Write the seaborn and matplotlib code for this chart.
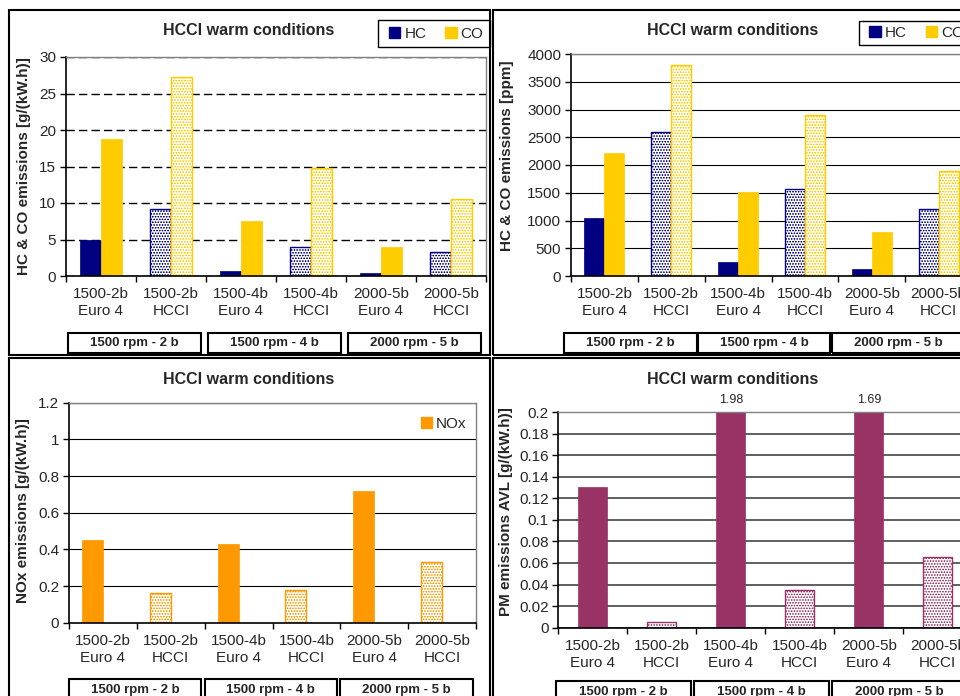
import numpy as np
import pandas as pd
import matplotlib
matplotlib.use("Agg")
import matplotlib.pyplot as plt
import seaborn as sns
from matplotlib.patches import Rectangle, Patch
from matplotlib.transforms import blended_transform_factory
from matplotlib.ticker import FuncFormatter

# Test points: engine speed / load and combustion mode
categories = ["1500-2b\nEuro 4", "1500-2b\nHCCI", "1500-4b\nEuro 4",
              "1500-4b\nHCCI", "2000-5b\nEuro 4", "2000-5b\nHCCI"]
combustion_mode = ["Euro 4", "HCCI", "Euro 4", "HCCI", "Euro 4", "HCCI"]
operating_points = ["1500 rpm - 2 b", "1500 rpm - 4 b", "2000 rpm - 5 b"]

# Specific emissions [g/(kW.h)]
hc_specific = [4.9, 9.2, 0.7, 4.0, 0.35, 3.3]
co_specific = [18.8, 27.2, 7.6, 14.8, 4.0, 10.5]
nox_specific = [0.45, 0.16, 0.43, 0.18, 0.72, 0.33]
pm_specific = [0.130, 0.0055, 1.98, 0.035, 1.69, 0.066]

# Raw concentrations [ppm]
hc_ppm = [1040, 2600, 250, 1570, 130, 1200]
co_ppm = [2210, 3800, 1505, 2900, 800, 1900]

NAVY = "#000080"
GOLD = "#FFCC00"
ORANGE = "#FF9900"
PLUM = "#993366"

sns.set_style("white")
plt.rcParams["font.family"] = ["Liberation Sans", "DejaVu Sans"]
plt.rcParams["hatch.linewidth"] = 0.25

W, H = 960, 696
fig = plt.figure(figsize=(W / 100, H / 100), dpi=100)


def fx(px):
    return px / W


def fy(py):
    return 1 - py / H


def axes_rect(left, top, right, bottom):
    return [fx(left), fy(bottom), (right - left) / W, (bottom - top) / H]


def frame(l, t, r, b, lw=1.5):
    fig.add_artist(Rectangle((fx(l), fy(b)), (r - l) / W, (b - t) / H,
                             transform=fig.transFigure, fill=False,
                             ec="black", lw=lw, zorder=0))


# One bordered frame per chart
for box in [(8.5, 10, 489.5, 355), (492.5, 10, 1010, 355),
            (8.5, 358, 489.5, 720), (492.5, 358, 1010, 720)]:
    frame(*box)


def style_bar(bar, mode, color):
    if mode == "HCCI":
        bar.set_facecolor("white")
        bar.set_edgecolor(color)
        bar.set_hatch("oooooo")
        bar.set_linewidth(1.0)
    else:
        bar.set_facecolor(color)
        bar.set_edgecolor(color)
        bar.set_linewidth(0.5)


def paired_bars(ax, first, second, names, colors):
    df = pd.DataFrame({
        "point": categories * 2,
        "value": list(first) + list(second),
        "species": [names[0]] * 6 + [names[1]] * 6,
    })
    sns.barplot(data=df, x="point", y="value", hue="species", order=categories,
                hue_order=names, palette=dict(zip(names, colors)), width=0.6,
                saturation=1, errorbar=None, legend=False, ax=ax)
    for container, color in zip(ax.containers, colors):
        for mode, bar in zip(combustion_mode, container):
            style_bar(bar, mode, color)


def single_bars(ax, values, color, width, shift=0.0):
    df = pd.DataFrame({"point": categories, "value": values})
    sns.barplot(data=df, x="point", y="value", order=categories, color=color,
                width=width, saturation=1, errorbar=None, ax=ax)
    for mode, bar in zip(combustion_mode, ax.containers[0]):
        bar.set_x(bar.get_x() + shift)
        style_bar(bar, mode, color)


def style_axes(ax, ymax, ystep, grid_kw):
    ax.set_xlabel("")
    ax.set_ylabel("")
    ax.set_xlim(-0.5, 5.5)
    ax.set_ylim(0, ymax)
    ax.set_yticks(np.round(np.arange(0, ymax + ystep / 2, ystep), 6))
    ax.yaxis.set_major_formatter(FuncFormatter(lambda v, _: f"{v:g}"))
    ax.set_xticks(np.arange(-0.5, 6, 1))
    ax.set_xticklabels([])
    ax.set_xticks(range(6), minor=True)
    ax.set_xticklabels(categories, minor=True)
    for t in ax.get_xticklabels(minor=True):
        t.set_linespacing(1.3)
    ax.tick_params(axis="x", which="major", direction="out", length=4,
                   width=1, color="black", bottom=True)
    ax.tick_params(axis="x", which="minor", length=0, pad=8, labelsize=11,
                   bottom=True)
    ax.tick_params(axis="y", direction="out", length=4, width=1, pad=3,
                   labelsize=11, left=True, color="black")
    ax.grid(False)
    ax.yaxis.grid(True, **grid_kw)
    ax.set_axisbelow(True)
    for s in ["left", "bottom"]:
        ax.spines[s].set_color("black")
        ax.spines[s].set_linewidth(1.2)
    for s in ["top", "right"]:
        ax.spines[s].set_color("#808080")
        ax.spines[s].set_linewidth(1.0)


def group_boxes(ax, axis_px, offset_px, a, w):
    tr = blended_transform_factory(ax.transData, fig.transFigure)
    top = axis_px + offset_px
    for k, name in enumerate(operating_points):
        x0 = 2 * k - 0.5 + a
        ax.add_patch(Rectangle((x0, fy(top + 20.5)), w, 20.5 / H, transform=tr,
                               fill=False, ec="black", lw=1.5, clip_on=False))
        ax.text(x0 + w / 2, fy(top + 10.5), name, transform=tr, ha="center",
                va="center", fontsize=9.5, fontweight="bold", clip_on=False)


def legend_box(labels, colors, box, anchor):
    frame(*box, lw=1.0)
    handles = [Patch(facecolor=c, edgecolor=c) for c in colors]
    fig.legend(handles, labels, loc="center left",
               bbox_to_anchor=(fx(anchor[0]), fy(anchor[1])), ncol=len(labels),
               frameon=False, fontsize=11, handlelength=0.75, handleheight=0.75,
               handletextpad=0.25, columnspacing=1.25, borderpad=0,
               borderaxespad=0)


def titles(x, y, ylabel, lx, ly):
    fig.text(fx(x), fy(y), "HCCI warm conditions", ha="center", va="center",
             fontsize=11.5, fontweight="bold")
    fig.text(fx(lx), fy(ly), ylabel, ha="center", va="center", rotation=90,
             fontsize=11, fontweight="bold")


# --- HC & CO specific emissions ---
ax1 = fig.add_axes(axes_rect(66, 57, 486, 276))
paired_bars(ax1, hc_specific, co_specific, ["HC", "CO"], [NAVY, GOLD])
style_axes(ax1, 30, 5, dict(color="black", linestyle=(0, (6, 3)), linewidth=1.0))
group_boxes(ax1, 276, 56.5, 0.03, 1.9)
titles(249, 30.5, "HC & CO emissions [g/(kW.h)]", 24, 166)
legend_box(["HC", "CO"], [NAVY, GOLD], (377.7, 20, 489.5, 46.7), (389, 33.5))

# --- HC & CO concentrations ---
ax2 = fig.add_axes(axes_rect(571, 54, 972, 276))
paired_bars(ax2, hc_ppm, co_ppm, ["HC", "CO"], [NAVY, GOLD])
style_axes(ax2, 4000, 500, dict(color="black", linestyle="-", linewidth=0.8))
group_boxes(ax2, 276, 56.5, -0.1, 1.98)
titles(733, 30.5, "HC & CO emissions [ppm]", 507, 156)
legend_box(["HC", "CO"], [NAVY, GOLD], (859, 20.7, 1010, 45), (869.3, 33))

# --- NOx ---
ax3 = fig.add_axes(axes_rect(69, 402.7, 476, 622.7))
single_bars(ax3, nox_specific, ORANGE, 0.31, shift=-0.155)
style_axes(ax3, 1.2, 0.2, dict(color="black", linestyle="-", linewidth=0.8))
group_boxes(ax3, 622.7, 56.3, 0.0, 1.95)
titles(249, 379, "NOx emissions [g/(kW.h)]", 23.5, 511)
legend_box(["NOx"], [ORANGE], (412.7, 410, 470, 437), (420.7, 423.5))

# --- PM ---
pm_max = 0.2
ax4 = fig.add_axes(axes_rect(558.3, 412, 972.3, 627.7))
single_bars(ax4, pm_specific, PLUM, 0.42)
style_axes(ax4, pm_max, 0.02, dict(color="#444444", linestyle="-", linewidth=1.2))
group_boxes(ax4, 627.7, 53.3, -0.03, 1.95)
titles(733, 379, "PM emissions AVL [g/(kW.h)]", 506, 512)
over = blended_transform_factory(ax4.transData, ax4.transAxes)
for i, v in enumerate(pm_specific):
    if v > pm_max:
        ax4.annotate(f"{v:.2f}", xy=(i, 1), xycoords=over, xytext=(0, 4),
                     textcoords="offset points", ha="center", va="bottom",
                     fontsize=9, annotation_clip=False)

fig.savefig("out.png", dpi=100)
